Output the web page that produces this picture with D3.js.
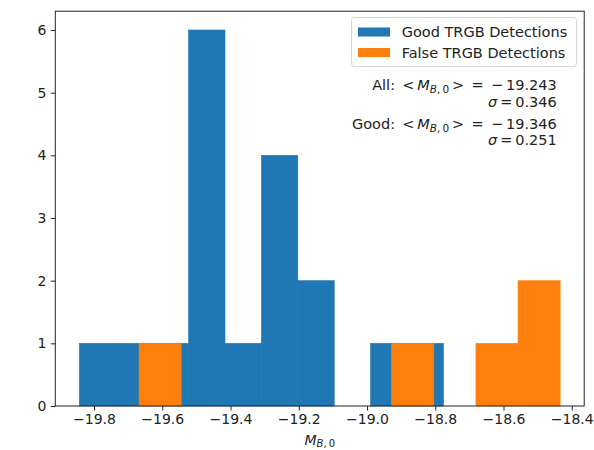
<!DOCTYPE html>
<html>
<head>
<meta charset="utf-8">
<script src="https://cdn.jsdelivr.net/npm/d3@7"></script>
<style>
  html, body { margin: 0; padding: 0; background: #fff; }
  svg text { font-family: "DejaVu Sans", sans-serif; fill: #222; }
</style>
</head>
<body>
<svg id="chart" width="594" height="450"></svg>
<script>
// Histogram of TRGB absolute magnitudes: per-bin counts and the range each histogram spans
const goodCounts = [1, 1, 1, 6, 1, 4, 2, 0, 1, 1];
const goodRange = [-19.843, -18.776];
const falseCounts = [1, 0, 0, 0, 0, 0, 1, 0, 1, 2];
const falseRange = [-19.668, -18.434];
const xTicks = [-19.8, -19.6, -19.4, -19.2, -19.0, -18.8, -18.6, -18.4];
const yTicks = [0, 1, 2, 3, 4, 5, 6];
const seriesNames = ["Good TRGB Detections", "False TRGB Detections"];
const seriesColors = ["#1f77b4", "#ff7f0e"];
const allStats = { mean: "19.243", sigma: "0.346" };
const goodStats = { mean: "19.346", sigma: "0.251" };

const svg = d3.select("#chart");
const plot = { left: 55.3, right: 584.2, top: 11.2, bottom: 406 };
const TICK_FS = 14;
const TEXT_FS = 14.5;

// bin edges for a histogram with equal-width bins
function binsFor(counts, range) {
  const w = (range[1] - range[0]) / counts.length;
  return counts.map((c, i) => ({ x0: range[0] + i * w, x1: range[0] + (i + 1) * w, count: c }));
}
const goodBins = binsFor(goodCounts, goodRange);
const falseBins = binsFor(falseCounts, falseRange);

// matplotlib-style 5% x padding around the data; y starts at zero
const xmin = Math.min(goodRange[0], falseRange[0]);
const xmax = Math.max(goodRange[1], falseRange[1]);
const pad = 0.05 * (xmax - xmin);
const x = d3.scaleLinear().domain([xmin - pad, xmax + pad]).range([plot.left, plot.right]);
const ymax = d3.max(goodCounts.concat(falseCounts)) * 1.05;
const y = d3.scaleLinear().domain([0, ymax]).range([plot.bottom, plot.top]);

// bars (good first, false drawn on top)
[goodBins, falseBins].forEach((bins, k) => {
  svg.append("g").selectAll("rect")
    .data(bins.filter(b => b.count > 0))
    .join("rect")
    .attr("x", d => x(d.x0))
    .attr("width", d => x(d.x1) - x(d.x0))
    .attr("y", d => y(d.count))
    .attr("height", d => y(0) - y(d.count))
    .attr("fill", seriesColors[k])
    .attr("stroke", seriesColors[k])
    .attr("stroke-width", 0.6);
});

// axes
const xAxis = d3.axisBottom(x).tickValues(xTicks).tickFormat(d3.format(".1f"))
  .tickSizeInner(4.5).tickSizeOuter(0).tickPadding(4);
const gx = svg.append("g").attr("transform", `translate(0,${plot.bottom})`).call(xAxis);
const yAxis = d3.axisLeft(y).tickValues(yTicks).tickFormat(d3.format("d"))
  .tickSizeInner(4.5).tickSizeOuter(0).tickPadding(4.5);
const gy = svg.append("g").attr("transform", `translate(${plot.left},0)`).call(yAxis);
[gx, gy].forEach(g => {
  g.select(".domain").remove();
  g.selectAll(".tick line").attr("stroke", "#222").attr("stroke-width", 1);
  g.selectAll(".tick text").attr("font-size", TICK_FS).attr("fill", "#222")
    .attr("font-family", "DejaVu Sans");
});

// frame
svg.append("rect")
  .attr("x", plot.left).attr("y", plot.top)
  .attr("width", plot.right - plot.left).attr("height", plot.bottom - plot.top)
  .attr("fill", "none").attr("stroke", "#222").attr("stroke-width", 1);

// x label: M_{B,0}
const xl = svg.append("text")
  .attr("x", (plot.left + plot.right) / 2).attr("y", 444.5)
  .attr("text-anchor", "middle").attr("font-size", TICK_FS);
xl.append("tspan").attr("font-style", "italic").text("M");
xl.append("tspan").attr("font-size", 10).attr("dy", 2.5).attr("font-style", "italic").text("B");
xl.append("tspan").attr("font-size", 10).text(",\u20090");

// legend
const lg = svg.append("g");
lg.append("rect")
  .attr("x", 351.5).attr("y", 17.5).attr("width", 225).attr("height", 49)
  .attr("rx", 3).attr("fill", "#fff").attr("fill-opacity", 0.8)
  .attr("stroke", "#ccc").attr("stroke-opacity", 0.8).attr("stroke-width", 1);
seriesNames.forEach((name, i) => {
  const cy = 32 + i * 20.5;
  lg.append("rect").attr("x", 358).attr("y", cy - 4.5).attr("width", 32).attr("height", 9)
    .attr("fill", seriesColors[i]);
  lg.append("text").attr("x", 401.7).attr("y", cy + 5.2).attr("font-size", TEXT_FS).text(name);
});

// summary statistics
function statLine(yPos, label, value) {
  const t = svg.append("text").attr("x", 556.7).attr("y", yPos)
    .attr("text-anchor", "end").attr("font-size", TEXT_FS);
  t.append("tspan").text(label + ":\u2002<\u2009");
  t.append("tspan").attr("font-style", "italic").text("M");
  t.append("tspan").attr("font-size", 10.5).attr("dy", 3).attr("font-style", "italic").text("B");
  t.append("tspan").attr("font-size", 10.5).text(",\u20090");
  t.append("tspan").attr("dy", -3).text("\u2009>\u2002=\u2002\u2212\u2009" + value);
}
function sigmaLine(yPos, value) {
  const t = svg.append("text").attr("x", 556.7).attr("y", yPos)
    .attr("text-anchor", "end").attr("font-size", TEXT_FS);
  t.append("tspan").attr("font-style", "italic").text("\u03c3");
  t.append("tspan").text("\u2009=\u2009" + value);
}
statLine(90.3, "All", allStats.mean);
sigmaLine(107, allStats.sigma);
statLine(128.6, "Good", goodStats.mean);
sigmaLine(145.3, goodStats.sigma);
</script>
</body>
</html>
